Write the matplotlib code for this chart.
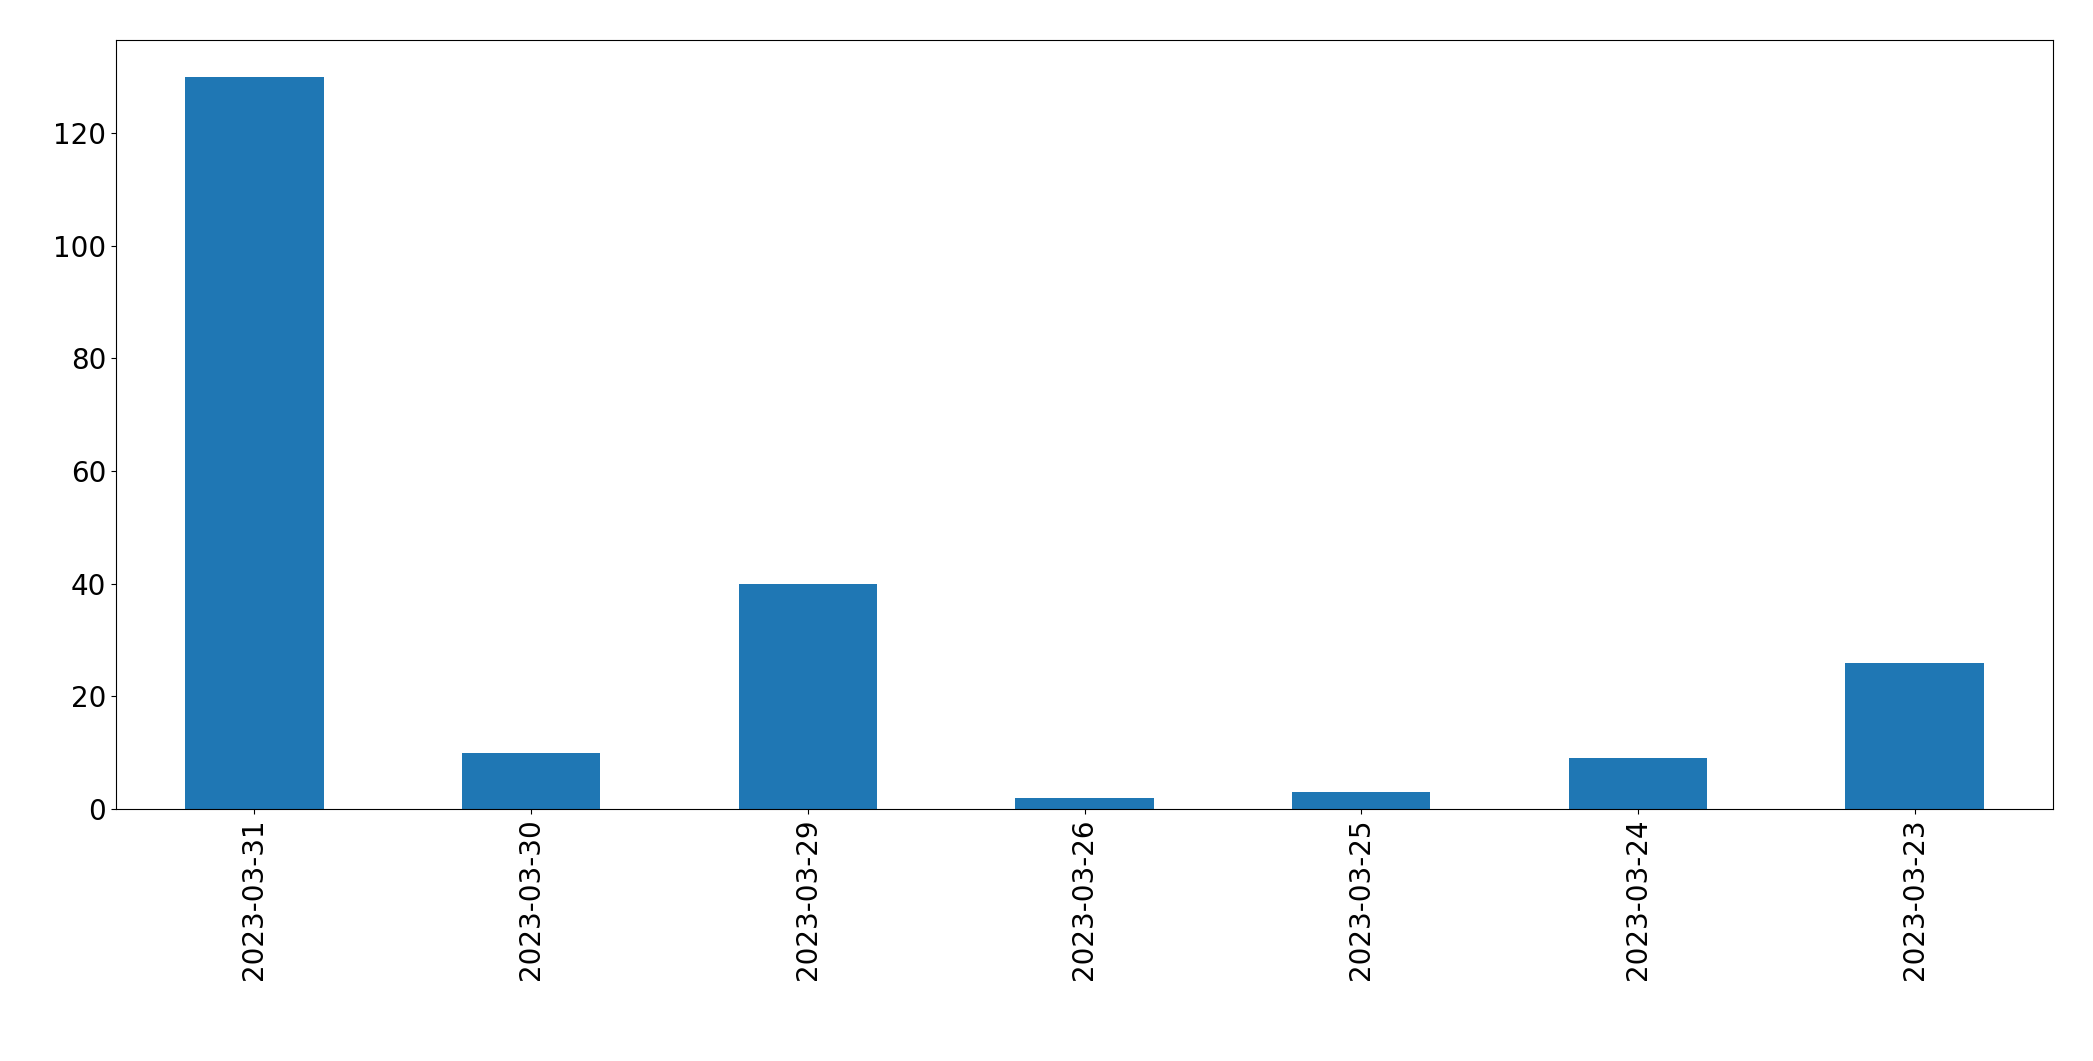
import matplotlib.pyplot as plt

# Datos
fechas = ['2023-03-31', '2023-03-30', '2023-03-29', '2023-03-26',
          '2023-03-25', '2023-03-24', '2023-03-23']
valores = [130, 10, 40, 2, 3, 9, 26]

fig = plt.figure(figsize=(20.93, 10.61), dpi=100)
ax = fig.add_axes([116 / 2093, 1 - 809 / 1061, (2053 - 116) / 2093, (809 - 40) / 1061])
ax.bar(range(len(fechas)), valores, width=0.5, color='#1f77b4')
ax.set_xlim(-0.5, len(fechas) - 0.5)
ax.set_ylim(0, 136.5)
ax.set_xticks(range(len(fechas)))
ax.set_xticklabels(fechas, rotation=90)
ax.tick_params(labelsize=20)

fig.savefig('out.png', dpi=100)
